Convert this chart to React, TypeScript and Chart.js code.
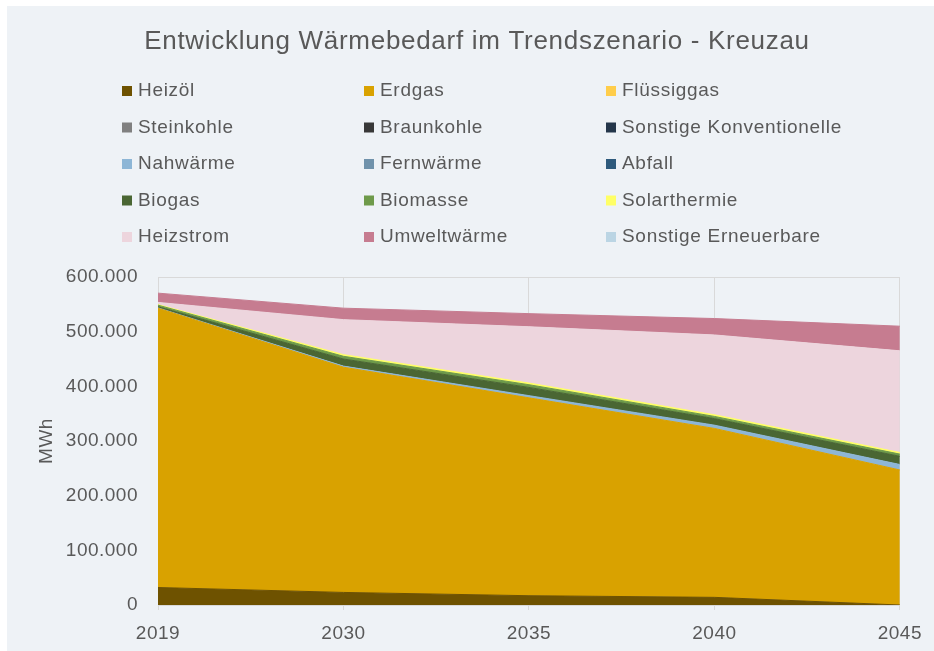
import React, { useEffect, useRef } from 'react';
import { Chart, registerables } from 'chart.js';

Chart.register(...registerables);

const TITLE = 'Entwicklung Wärmebedarf im Trendszenario - Kreuzau';
const Y_TITLE = 'MWh';
const years = ['2019', '2030', '2035', '2040', '2045'];

const heizoel = [32000, 23000, 17000, 14000, 0];
const erdgas = [511000, 412000, 362000, 309000, 247000];
const fluessiggas = [0, 0, 0, 0, 0];
const steinkohle = [0, 0, 0, 0, 0];
const braunkohle = [0, 0, 0, 0, 0];
const sonstKonv = [0, 0, 0, 0, 0];
const nahwaerme = [500, 2000, 4000, 6000, 10000];
const fernwaerme = [0, 0, 0, 0, 0];
const abfall = [0, 0, 0, 0, 0];
const biogas = [2000, 13000, 15000, 12000, 15000];
const biomasse = [3000, 5000, 5000, 4000, 4000];
const solarthermie = [1000, 3000, 3000, 3000, 3000];
const heizstrom = [4000, 64000, 103000, 146000, 186000];
const umweltwaerme = [17000, 21000, 24000, 30000, 45000];
const sonstErneuerbar = [0, 0, 0, 0, 0];

const seriesNames = [
  'Heizöl', 'Erdgas', 'Flüssiggas',
  'Steinkohle', 'Braunkohle', 'Sonstige Konventionelle',
  'Nahwärme', 'Fernwärme', 'Abfall',
  'Biogas', 'Biomasse', 'Solarthermie',
  'Heizstrom', 'Umweltwärme', 'Sonstige Erneuerbare',
];
const seriesValues = [
  heizoel, erdgas, fluessiggas,
  steinkohle, braunkohle, sonstKonv,
  nahwaerme, fernwaerme, abfall,
  biogas, biomasse, solarthermie,
  heizstrom, umweltwaerme, sonstErneuerbar,
];
const seriesColors = [
  '#6E5200', '#D9A200', '#FFCD4A',
  '#808080', '#383838', '#24364A',
  '#8DB6D6', '#7092AB', '#2E5A7C',
  '#4A6633', '#6E9A4A', '#FFFF66',
  '#EDD5DD', '#C67C90', '#BBD5E4',
];

const FONT = "'Liberation Sans', Arial, sans-serif";
const TEXT_COLOR = '#595959';
const GRID_COLOR = '#D9D9D9';

const fmt = (v: number) => String(Math.round(v)).replace(/\B(?=(\d{3})+(?!\d))/g, '.');

const spacing = {
  id: 'spacing',
  beforeLayout(chart: any) {
    chart.ctx.letterSpacing = '0.5px';
  },
  beforeDraw(chart: any) {
    chart.ctx.letterSpacing = '0.5px';
  },
};

const gridLegend = {
  id: 'gridLegend',
  afterDraw(chart: any) {
    const ctx = chart.ctx;
    ctx.save();
    ctx.letterSpacing = '0.7px';
    ctx.fillStyle = TEXT_COLOR;
    ctx.font = `26px ${FONT}`;
    ctx.textAlign = 'center';
    ctx.textBaseline = 'middle';
    ctx.fillText(TITLE, 470, 36);

    ctx.font = `19px ${FONT}`;
    ctx.textAlign = 'left';
    chart.data.datasets.forEach((ds: any, i: number) => {
      const col = i % 3;
      const row = Math.floor(i / 3);
      const x = 115 + col * 242;
      const y = 85 + row * 36.5;
      ctx.fillStyle = ds.backgroundColor;
      ctx.fillRect(x, y - 5, 10, 10);
      ctx.fillStyle = TEXT_COLOR;
      ctx.fillText(ds.label, x + 16, y);
    });
    ctx.restore();
  },
};

export default function App() {
  const ref = useRef<HTMLCanvasElement>(null);

  useEffect(() => {
    if (!ref.current) return;
    Chart.defaults.font.family = FONT;
    const chart = new Chart(ref.current, {
      type: 'line',
      data: {
        labels: years,
        datasets: seriesNames.map((name, i) => ({
          label: name,
          data: seriesValues[i],
          backgroundColor: seriesColors[i],
          borderColor: seriesColors[i],
          borderWidth: seriesValues[i].some((v) => v > 0) ? 1 : 0,
          pointRadius: 0,
          pointHoverRadius: 0,
          tension: 0,
          fill: i === 0 ? 'origin' : '-1',
        })),
      },
      options: {
        responsive: false,
        animation: false,
        layout: { padding: { top: 271, right: 34, bottom: 0, left: 0 } },
        plugins: {
          legend: { display: false },
          title: { display: false },
          tooltip: { enabled: false },
        },
        scales: {
          x: {
            offset: false,
            grid: { color: GRID_COLOR, drawTicks: true, tickLength: 5, tickColor: GRID_COLOR },
            border: { display: false },
            ticks: { color: TEXT_COLOR, font: { size: 19 }, padding: 12, maxRotation: 0 },
            afterFit: (scale: any) => { scale.height = 46; },
          },
          y: {
            stacked: true,
            min: 0,
            max: 600000,
            grid: { color: GRID_COLOR, drawTicks: false },
            border: { display: false },
            ticks: {
              stepSize: 100000,
              color: TEXT_COLOR,
              font: { size: 19 },
              padding: 20,
              callback: (v: any) => fmt(Number(v)),
            },
            title: {
              display: true,
              text: Y_TITLE,
              color: TEXT_COLOR,
              font: { size: 19 },
              padding: { top: 28, bottom: 0 },
            },
            afterFit: (scale: any) => { scale.width = 151; },
          },
        },
      },
      plugins: [spacing, gridLegend],
    });
    return () => chart.destroy();
  }, []);

  return (
    <div
      style={{
        position: 'absolute',
        left: 7,
        top: 6,
        width: 927,
        height: 645,
        background: '#EEF2F6',
      }}
    >
      <canvas ref={ref} width={927} height={645} style={{ display: 'block' }} />
    </div>
  );
}
